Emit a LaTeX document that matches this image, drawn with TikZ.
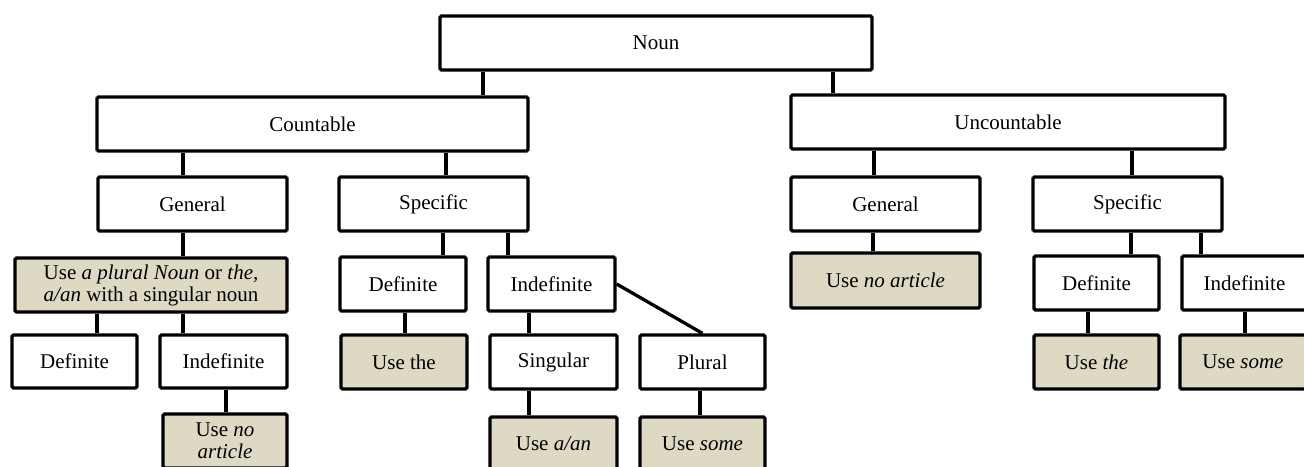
\documentclass[tikz,border=0pt]{standalone}
\usepackage{fontspec}
\setmainfont{Liberation Serif}
\usepackage{xcolor}
\usepackage{tikz}
\usetikzlibrary{arrows}
\usetikzlibrary{calc}
\definecolor{usefill}{RGB}{221,217,195}

\begin{document}
\begin{tikzpicture}[x=1pt,y=-1pt,line width=3.3pt]
\fontsize{21}{25}\selectfont
\tikzstyle{main}=[rectangle, rounded corners=1.5pt, draw=black, line width=3.3pt, minimum height=54pt, inner sep=1pt, align=center]
\tikzstyle{use}=[main, fill=usefill]
\useasboundingbox (0,0) rectangle (1304,466);
\clip (0,0) rectangle (1304,466);
% top levels
\node[main, minimum width=432pt] (noun) at (656,43) {Noun};
\node[main, minimum width=431pt] (count) at (312.5,124) {Countable};
\node[main, minimum width=434pt] (uncount) at (1008,122) {Uncountable};
\node[main, minimum width=189pt] (cgen) at (192.5,204) {General};
\node[main, minimum width=189pt] (cspec) at (433.5,204) {Specific};
\node[main, minimum width=189pt] (ugen) at (885.5,204) {General};
\node[main, minimum width=189pt] (uspec) at (1127.5,204) {Specific};
% countable, general
\node[use, minimum width=272pt] (cuse) at (151,285) {Use \textit{a plural Noun} or \textit{the,}\\[-3pt] \textit{a/an} with a singular noun};
\node[main, minimum width=125pt, minimum height=53pt] (cdef) at (74.5,361.5) {Definite};
\node[main, minimum width=127pt, minimum height=53pt] (cindef) at (223.5,361.5) {Indefinite};
\node[use, minimum width=124pt] (cnoart) at (225,441) {Use \textit{no}\\[-3pt] \textit{article}};
% countable, specific
\node[main, minimum width=126pt] (sdef) at (403,284) {Definite};
\node[main, minimum width=127pt] (sindef) at (551.5,284) {Indefinite};
\node[use, minimum width=126pt] (sthe) at (404,362) {Use the};
\node[main, minimum width=127pt] (ssing) at (553.5,362) {Singular};
\node[main, minimum width=125pt] (splur) at (702.5,362) {Plural};
\node[use, minimum width=127pt] (saan) at (553.5,444) {Use \textit{a/an}};
\node[use, minimum width=125pt] (ssome) at (702.5,444) {Use \textit{some}};
% uncountable
\node[use, minimum width=189pt, minimum height=55pt] (unoart) at (885.5,280.5) {Use \textit{no article}};
\node[main, minimum width=125pt] (udef) at (1096.5,283) {Definite};
\node[main, minimum width=125pt] (uindef) at (1244.5,283) {Indefinite};
\node[use, minimum width=125pt] (uthe) at (1096.5,362) {Use \textit{the}};
\node[use, minimum width=126pt] (usome) at (1243,362) {Use \textit{some}};
\foreach \a/\b/\x in {noun/count/483, noun/uncount/833, count/cgen/183, count/cspec/446,
    uncount/ugen/874, uncount/uspec/1132, cgen/cuse/183, cuse/cdef/97, cuse/cindef/183,
    cindef/cnoart/226, cspec/sdef/443, cspec/sindef/508, sdef/sthe/405, sindef/ssing/529,
    ssing/saan/529, splur/ssome/700, ugen/unoart/873, uspec/udef/1131, uspec/uindef/1201,
    udef/uthe/1088, uindef/usome/1245}
       {
        \draw (\a.south -| \x,0) -- (\b.north -| \x,0);
       }
\draw (sindef.east) -- (splur.north);
\end{tikzpicture}
\end{document}
